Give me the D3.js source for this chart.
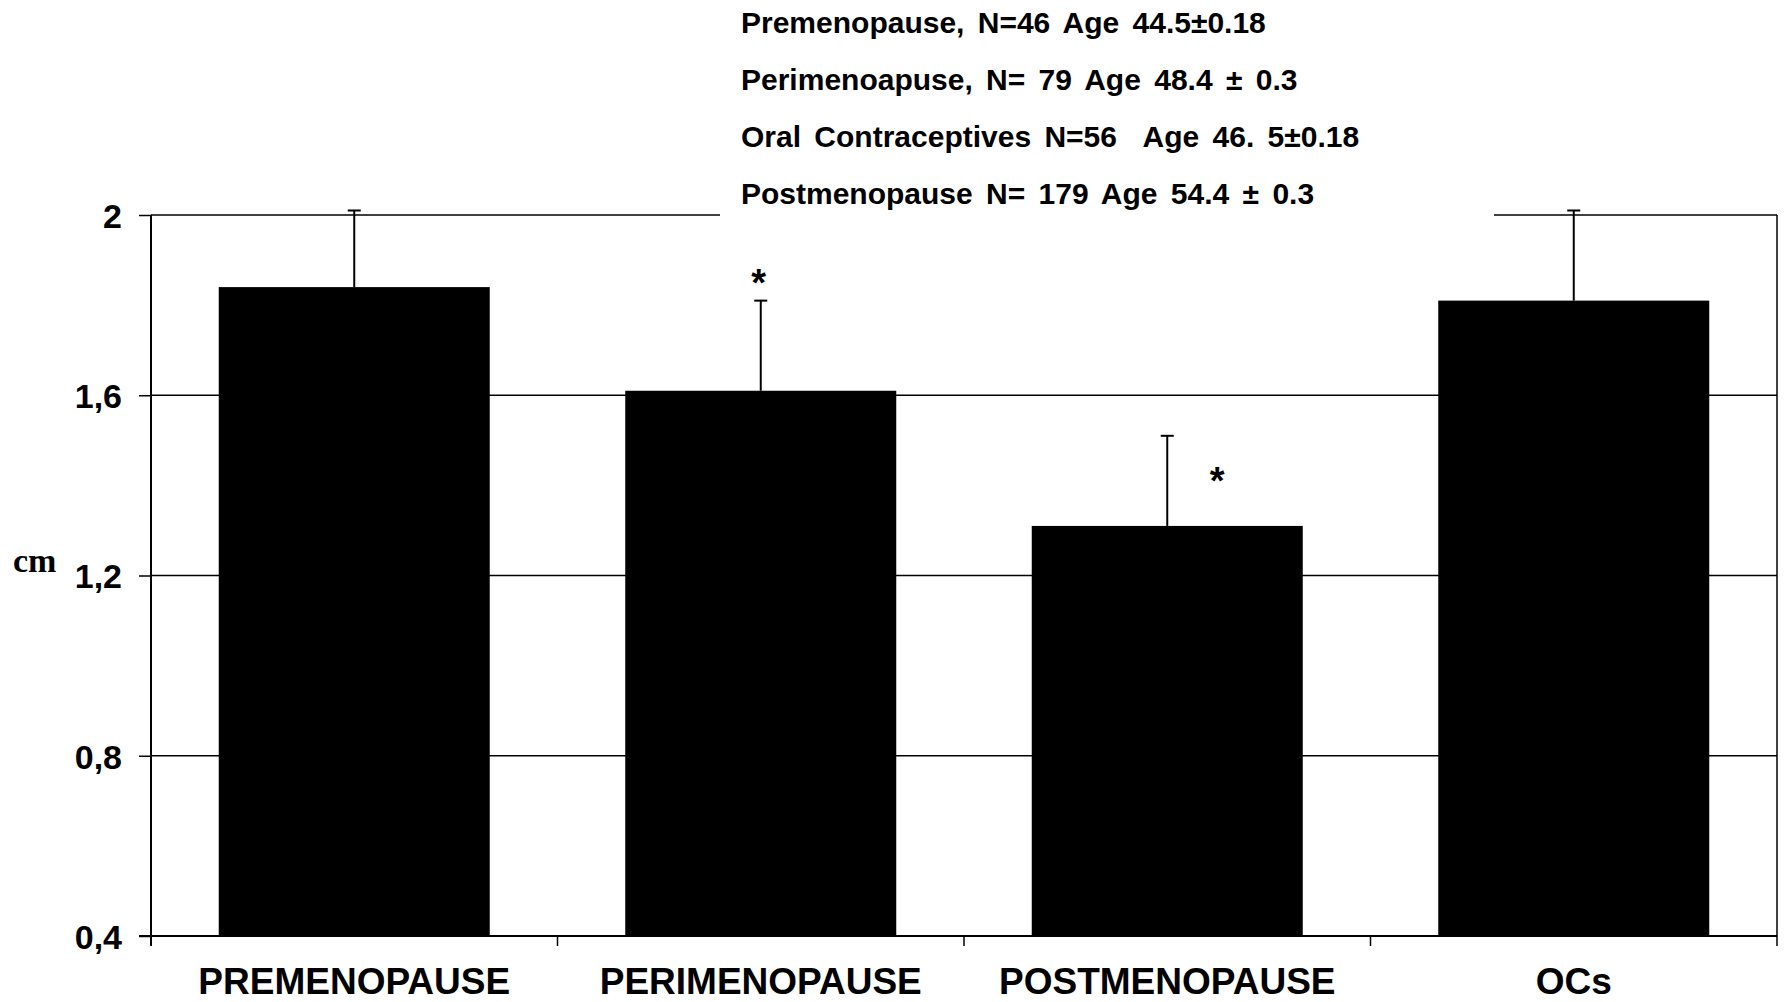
<!DOCTYPE html>
<html>
<head>
<meta charset="utf-8">
<script src="https://cdn.jsdelivr.net/npm/d3@7"></script>
<style>
  html, body { margin: 0; padding: 0; background: #fff; }
  svg { display: block; }
  text { font-family: "Liberation Sans", Arial, sans-serif; font-weight: bold; fill: #000; }
</style>
</head>
<body>
<svg id="canvas" width="1784" height="1002"></svg>
<script>
/** Chart data */
const categories = ['PREMENOPAUSE', 'PERIMENOPAUSE', 'POSTMENOPAUSE', 'OCs'];
const means = [1.84, 1.61, 1.31, 1.81];
const errors = [0.17, 0.20, 0.20, 0.20];
const significant = [false, true, true, false];
const yTicks = [0.4, 0.8, 1.2, 1.6, 2];
const groupNotes = [
    'Premenopause, N=46 Age 44.5\u00b10.18',
    'Perimenoapuse, N= 79 Age 48.4 \u00b1 0.3',
    'Oral Contraceptives N=56  Age 46. 5\u00b10.18',
    'Postmenopause N= 179 Age 54.4 \u00b1 0.3'
];

let canvas = d3.select('#canvas');

/** Plot area */
const plotLeft = 151, plotRight = 1777, plotTop = 215, plotBottom = 936;

let x = d3.scaleBand()
    .domain(categories)
    .range([plotLeft, plotRight])
    .paddingInner(1 / 3)
    .paddingOuter(1 / 6);

let y = d3.scaleLinear()
    .domain([0.4, 2])
    .range([plotBottom, plotTop]);

const fmt = (d) => String(d).replace('.', ',');

/** Gridlines (no line at the base) */
canvas.append('g')
    .selectAll('line')
    .data(yTicks.filter((d) => d > 0.4))
    .enter()
    .append('line')
    .attr('x1', plotLeft)
    .attr('x2', plotRight)
    .attr('y1', (d) => y(d))
    .attr('y2', (d) => y(d))
    .attr('stroke', '#000')
    .attr('stroke-width', 1.5);

/** Right border */
canvas.append('line')
    .attr('x1', plotRight).attr('x2', plotRight)
    .attr('y1', plotTop).attr('y2', plotBottom)
    .attr('stroke', '#000').attr('stroke-width', 1.5);

/** Bars */
let block = canvas.selectAll('g.bar')
    .data(categories)
    .enter()
    .append('g')
    .attr('class', 'bar');

block.append('rect')
    .attr('x', (d) => x(d))
    .attr('width', x.bandwidth())
    .attr('y', (d, i) => y(means[i]))
    .attr('height', (d, i) => plotBottom - y(means[i]))
    .attr('fill', '#000');

/** Error bars (upper only) */
block.append('line')
    .attr('x1', (d) => x(d) + x.bandwidth() / 2)
    .attr('x2', (d) => x(d) + x.bandwidth() / 2)
    .attr('y1', (d, i) => y(means[i]))
    .attr('y2', (d, i) => y(means[i] + errors[i]))
    .attr('stroke', '#000')
    .attr('stroke-width', 2);

block.append('line')
    .attr('x1', (d) => x(d) + x.bandwidth() / 2 - 6.5)
    .attr('x2', (d) => x(d) + x.bandwidth() / 2 + 6.5)
    .attr('y1', (d, i) => y(means[i] + errors[i]))
    .attr('y2', (d, i) => y(means[i] + errors[i]))
    .attr('stroke', '#000')
    .attr('stroke-width', 2);

/** Significance stars: first one above the cap, second one beside the error bar */
let starIdx = 0;
block.filter((d, i) => significant[i])
    .append('text')
    .attr('text-anchor', 'middle')
    .style('font-size', '38px')
    .each(function (d) {
        let i = categories.indexOf(d);
        let cx = x(d) + x.bandwidth() / 2;
        let capY = y(means[i] + errors[i]);
        if (starIdx === 0) {
            d3.select(this).attr('x', cx - 2).attr('y', capY - 5);
        } else {
            d3.select(this).attr('x', cx + 50).attr('y', (capY + y(means[i])) / 2 + 13);
        }
        starIdx++;
    })
    .text('*');

/** White box behind the notes (hides part of the top gridline) */
canvas.append('rect')
    .attr('x', 720)
    .attr('y', 0)
    .attr('width', 1494 - 720)
    .attr('height', 222)
    .attr('fill', '#fff');

/** Group notes */
canvas.append('g')
    .selectAll('text')
    .data(groupNotes)
    .enter()
    .append('text')
    .attr('x', 741)
    .attr('y', (d, i) => 33 + i * 57)
    .attr('xml:space', 'preserve')
    .style('white-space', 'pre')
    .style('font-size', '30px')
    .style('word-spacing', '5px')
    .text((d) => d);

/** Y axis */
let yAxis = d3.axisLeft(y)
    .tickValues(yTicks)
    .tickSize(12)
    .tickPadding(17)
    .tickFormat(fmt);

let yG = canvas.append('g')
    .attr('transform', `translate(${plotLeft},0)`)
    .call(yAxis);
yG.select('.domain').attr('stroke-width', 2).attr('d', `M0,${plotTop}V${plotBottom + 10}`);
yG.selectAll('.tick line').attr('stroke-width', 1.5);
yG.selectAll('.tick text')
    .style('font-family', '"Liberation Sans", Arial, sans-serif')
    .style('font-weight', 'bold')
    .style('font-size', '34px')
    .attr('dy', '0.36em');

/** X axis with ticks on category boundaries */
let xAxis = d3.axisBottom(x).tickSize(0).tickPadding(0);
let xG = canvas.append('g')
    .attr('transform', `translate(0,${plotBottom})`)
    .call(xAxis);
xG.select('.domain').attr('stroke-width', 2).attr('d', `M${plotLeft - 12},0H${plotRight}`);
xG.selectAll('.tick text')
    .style('font-family', '"Liberation Sans", Arial, sans-serif')
    .style('font-weight', 'bold')
    .style('font-size', '37px')
    .attr('y', 58)
    .attr('dy', 0);

xG.selectAll('line.sep')
    .data(categories.slice(1).map((d) => x(d) - x.step() * x.paddingInner() / 2).concat([plotRight]))
    .enter()
    .append('line')
    .attr('class', 'sep')
    .attr('x1', (d) => d)
    .attr('x2', (d) => d)
    .attr('y1', 0)
    .attr('y2', 10)
    .attr('stroke', '#000')
    .attr('stroke-width', 1.5);

/** Axis title */
canvas.append('text')
    .attr('x', 13)
    .attr('y', 572)
    .style('font-family', '"Liberation Serif", "Times New Roman", serif')
    .style('font-size', '34px')
    .text('cm');
</script>
</body>
</html>
